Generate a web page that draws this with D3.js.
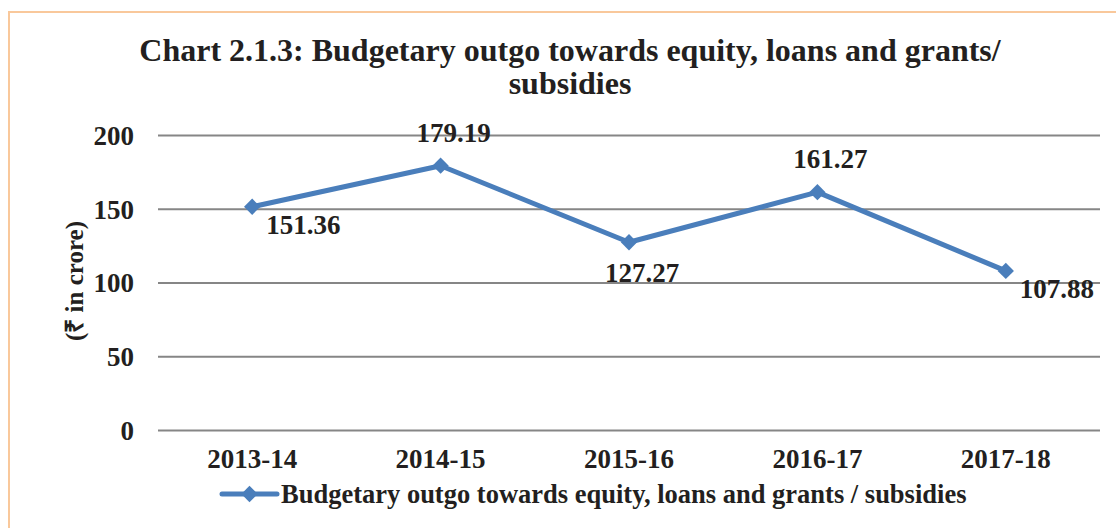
<!DOCTYPE html>
<html>
<head>
<meta charset="utf-8">
<script src="https://cdn.jsdelivr.net/npm/d3@7"></script>
<style>
  body { margin: 0; background: #fff; }
  svg text { font-family: "Liberation Serif", "Times New Roman", serif; font-weight: bold; fill: #231f20; }
</style>
</head>
<body>
<script>
// chart data
const years = ["2013-14", "2014-15", "2015-16", "2016-17", "2017-18"]
const outgo = [151.36, 179.19, 127.27, 161.27, 107.88]
const yTicks = [0, 50, 100, 150, 200]
// where each value label sits relative to its point
const labelPos = ["right", "above", "below", "above", "right"]

const W = 1116, H = 528
const blue = "#4a7ebb"

const svg = d3.select("body").append("svg")
  .attr("width", W)
  .attr("height", H)

// chart area border (runs off the right and bottom edges)
svg.append("rect")
  .attr("x", 9).attr("y", 12)
  .attr("width", W).attr("height", H)
  .attr("fill", "none")
  .attr("stroke", "#f9c89b")
  .attr("stroke-width", 2)

const x = d3.scaleBand().domain(years).range([158, 1100])
const y = d3.scaleLinear().domain([0, 200]).range([430, 135])

// title
const title = svg.append("text")
  .attr("text-anchor", "middle")
  .style("font-size", "32px")
title.append("tspan").attr("x", 570).attr("y", 61)
  .text("Chart 2.1.3: Budgetary outgo towards equity, loans and grants/")
title.append("tspan").attr("x", 570).attr("y", 94)
  .text("subsidies")

// gridlines + y labels
const yAxis = svg.append("g")
  .attr("transform", "translate(158,0)")
  .call(d3.axisLeft(y).tickValues(yTicks).tickSize(-942).tickPadding(24).tickFormat(d3.format("d")))
yAxis.select(".domain").remove()
yAxis.selectAll(".tick line").attr("stroke", "#868686").attr("stroke-width", 2)
yAxis.selectAll(".tick text")
  .attr("fill", "#231f20")
  .style("font-size", "27px")
  .style("font-family", "Liberation Serif, serif")
  .attr("dy", "0.35em")

// x labels
const xAxis = svg.append("g")
  .attr("transform", "translate(0,430)")
  .call(d3.axisBottom(x).tickSize(0).tickPadding(19))
xAxis.select(".domain").remove()
xAxis.selectAll(".tick text")
  .attr("fill", "#231f20")
  .style("font-size", "27px")
  .style("font-family", "Liberation Serif, serif")

// y axis title
svg.append("text")
  .attr("transform", "translate(83,281) rotate(-90)")
  .attr("text-anchor", "middle")
  .style("font-size", "25px")
  .text("(₹ in crore)")

// line
const cx = d => x(d) + x.bandwidth() / 2
const line = d3.line()
  .x((d, i) => cx(years[i]))
  .y(d => y(d))

svg.append("path")
  .datum(outgo)
  .attr("d", line)
  .attr("fill", "none")
  .attr("stroke", blue)
  .attr("stroke-width", 5)
  .attr("stroke-linejoin", "round")

const diamond = d3.symbol().type(d3.symbolDiamond2).size(170)

svg.selectAll(".pt")
  .data(outgo)
  .enter().append("path")
  .attr("class", "pt")
  .attr("d", diamond)
  .attr("transform", (d, i) => "translate(" + cx(years[i]) + "," + y(d) + ")")
  .attr("fill", blue)

// value labels
svg.selectAll(".lbl")
  .data(outgo)
  .enter().append("text")
  .attr("class", "lbl")
  .style("font-size", "27px")
  .attr("text-anchor", (d, i) => labelPos[i] === "right" ? "start" : "middle")
  .attr("x", (d, i) => labelPos[i] === "right" ? cx(years[i]) + 14 : cx(years[i]) + 13)
  .attr("y", (d, i) => {
    const py = y(d)
    if (labelPos[i] === "above") return py - 24
    if (labelPos[i] === "below") return py + 40
    return py + 27
  })
  .text(d => d.toFixed(2))

// legend
const lg = svg.append("g").attr("transform", "translate(0,494)")
lg.append("line")
  .attr("x1", 222).attr("x2", 277)
  .attr("stroke", blue).attr("stroke-width", 5)
  .attr("stroke-linecap", "round")
lg.append("path")
  .attr("d", diamond)
  .attr("transform", "translate(249.5,0)")
  .attr("fill", blue)
lg.append("text")
  .attr("x", 281).attr("y", 9)
  .style("font-size", "26.5px")
  .text("Budgetary outgo towards equity, loans and grants / subsidies")
</script>
</body>
</html>
